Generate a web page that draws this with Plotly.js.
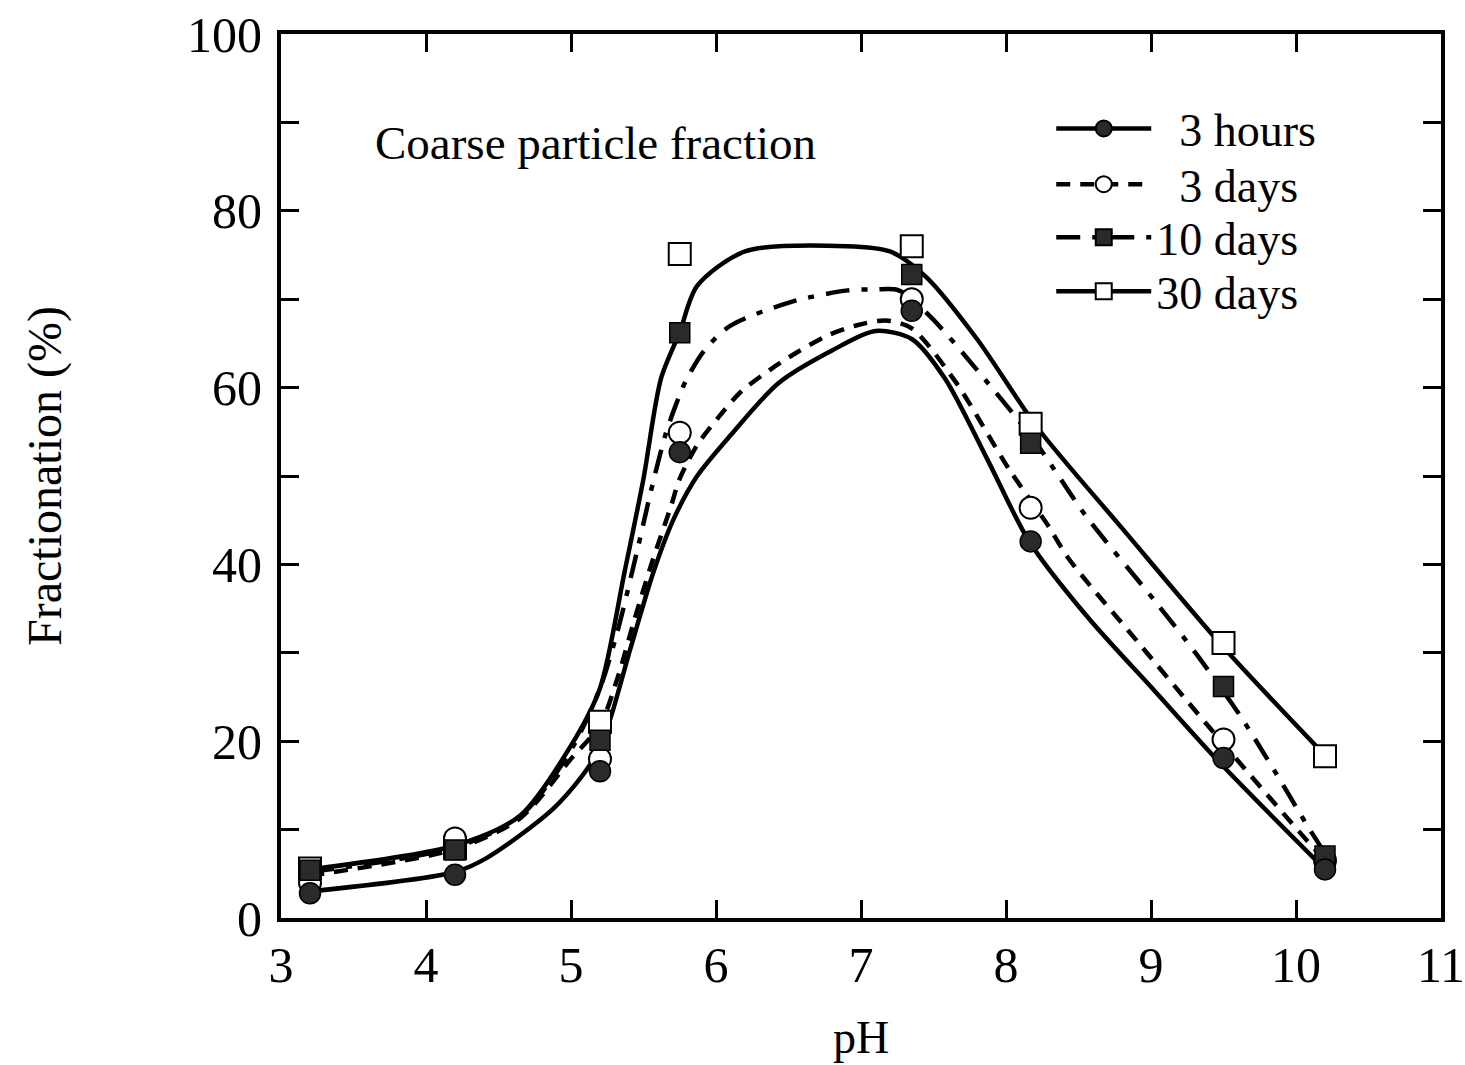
<!DOCTYPE html>
<html>
<head>
<meta charset="utf-8">
<script src="https://cdn.plot.ly/plotly-3.0.1.min.js"></script>
<style>
  html, body { margin: 0; padding: 0; background: #ffffff; }
  #chart { width: 1465px; height: 1065px; }
</style>
</head>
<body>
<div id="chart"></div>
<script>
// ---- Data ----
const seriesNames = ["\u00a0\u00a03 hours", "\u00a0\u00a03 days", "10 days", "30 days"];

// measured points
const pH = [3.2, 4.2, 5.2, 5.75, 7.35, 8.17, 9.5, 10.2];
const hours3 = [2.8, 4.9, 16.6, 52.7, 68.7, 42.6, 18.1, 5.5];
const days3  = [4.0, 9.0, 18.0, 54.9, 70.0, 46.4, 20.2, 6.5];
const days10 = [5.4, 7.7, 20.1, 66.2, 72.8, 53.7, 26.2, 7.0];
const days30 = [5.6, 7.9, 22.2, 75.1, 76.0, 55.9, 31.1, 18.3];

// fitted curves
const fitX_3h  = [3.2, 4.2, 4.42, 4.88, 5.13, 5.25, 5.41, 5.57, 5.71, 5.87, 6.1, 6.43, 6.8, 7.1, 7.35, 7.58, 7.88, 8.16, 8.57, 9.03, 9.49, 10.2];
const fitY_3h  = [3.0, 5.2, 6.8, 12.4, 17.3, 21.5, 30.5, 39.2, 45.2, 50.0, 54.6, 60.5, 64.2, 66.4, 65.5, 61.0, 51.6, 42.6, 33.9, 25.6, 17.3, 5.5];

const fitX_3d  = [3.2, 4.2, 4.65, 5.0, 5.2, 5.32, 5.44, 5.56, 5.69, 5.75, 5.87, 6.01, 6.17, 6.38, 6.56, 6.77, 6.96, 7.17, 7.35, 7.65, 8.02, 8.29, 8.43, 8.9, 9.38, 10.02, 10.2];
const fitY_3d  = [4.8, 7.8, 11.3, 18.0, 21.8, 27.1, 33.9, 40.3, 46.6, 49.7, 53.5, 56.5, 59.5, 62.1, 64.0, 65.9, 67.0, 67.6, 66.7, 60.7, 50.8, 44.4, 40.7, 31.4, 22.0, 9.8, 6.5];

const fitX_10d = [3.2, 4.2, 4.65, 5.0, 5.2, 5.32, 5.46, 5.55, 5.65, 5.72, 5.79, 5.92, 6.1, 6.52, 6.91, 7.1, 7.26, 7.48, 7.81, 8.2, 8.55, 9.03, 9.32, 9.61, 9.85, 10.08, 10.2];
const fitY_10d = [5.2, 8.0, 11.5, 19.0, 26.0, 32.4, 41.8, 48.2, 54.6, 57.9, 60.7, 64.2, 67.0, 69.7, 71.0, 71.1, 71.0, 68.0, 61.8, 53.9, 45.5, 35.8, 29.7, 23.0, 16.7, 10.4, 7.3];

const fitX_30d = [3.2, 4.2, 4.65, 5.0, 5.2, 5.37, 5.5, 5.62, 5.75, 5.87, 6.2, 6.9, 7.2, 7.45, 7.8, 8.22, 8.8, 9.49, 10.2];
const fitY_30d = [5.5, 8.2, 11.6, 19.5, 26.0, 39.2, 49.7, 61.0, 66.3, 71.5, 75.4, 76.0, 75.4, 72.5, 65.5, 55.4, 44.1, 30.8, 18.4];

const xTicks = [3, 4, 5, 6, 7, 8, 9, 10, 11];
const yTicks = [0, 20, 40, 60, 80, 100];

const chartTitle = "Coarse particle fraction";
const xTitle = "pH";
const yTitle = "Fractionation (%)";

// ---- Styles ----
const FONT = "Liberation Serif, Times New Roman, serif";
const LW = 4.5;
const styles = [
  {dash: "solid", symbol: "circle", fill: "#2a2a2a", size: 21},
  {dash: "14px,10px", symbol: "circle-open", fill: "#ffffff", size: 22},
  {dash: "24px,12px,6px,12px", symbol: "square", fill: "#2a2a2a", size: 20},
  {dash: "solid", symbol: "square-open", fill: "#ffffff", size: 22}
];
const legendIds = ["legend", "legend2", "legend3", "legend4"];
const legendY = [0.893, 0.830, 0.770, 0.709];

function curve(x, y, st) {
  return {x: x, y: y, type: "scatter", mode: "lines", showlegend: false, hoverinfo: "skip",
          line: {color: "#000", width: LW, dash: st.dash, shape: "spline", smoothing: 0.8}};
}
function pts(x, y, st) {
  const sym = st.symbol.replace("-open", "");
  return {x: x, y: y, type: "scatter", mode: "markers", showlegend: false,
          marker: {symbol: sym, size: st.size, color: st.fill, line: {color: "#000", width: st.symbol.includes("open") ? 2 : 1.5}}};
}
function legendItem(name, st, lg) {
  const sym = st.symbol.replace("-open", "");
  return {x: [null], y: [null], type: "scatter", mode: "lines+markers", name: name, legend: lg,
          line: {color: "#000", width: LW, dash: st.dash},
          marker: {symbol: sym, size: st.size - 1, color: st.fill, line: {color: "#000", width: 2}}};
}

const data = [
  curve(fitX_30d, fitY_30d, styles[3]),
  curve(fitX_10d, fitY_10d, styles[2]),
  curve(fitX_3d, fitY_3d, styles[1]),
  curve(fitX_3h, fitY_3h, styles[0]),
  pts(pH, days30, styles[3]),
  pts(pH, days3, styles[1]),
  pts(pH, days10, styles[2]),
  pts(pH, hours3, styles[0])
];
for (let i = 0; i < 4; i++) data.push(legendItem(seriesNames[i], styles[i], legendIds[i]));

const axisCommon = {
  showline: true, linecolor: "#000", linewidth: 4, mirror: "allticks",
  ticks: "inside", ticklen: 18, tickwidth: 3, tickcolor: "#000",
  showgrid: false, zeroline: false, ticklabeloverflow: "allow",
  tickfont: {family: FONT, size: 50, color: "#000"}
};

const layout = {
  width: 1465, height: 1065,
  paper_bgcolor: "#fff", plot_bgcolor: "#fff",
  margin: {l: 281, r: 24, t: 34, b: 147},
  font: {family: FONT, color: "#000"},
  xaxis: Object.assign({}, axisCommon, {
    range: [3, 11], tickvals: xTicks, ticktext: xTicks.map(String), ticklabelstandoff: 0,
    title: {text: xTitle, font: {family: FONT, size: 46}, standoff: 30}
  }),
  yaxis: Object.assign({}, axisCommon, {
    range: [0, 100], tickvals: yTicks, ticktext: yTicks.map(String), ticklabelstandoff: 5,
    minor: {dtick: 10, ticks: "inside", ticklen: 18, tickwidth: 3, tickcolor: "#000"},
    title: {text: yTitle, font: {family: FONT, size: 48}, standoff: 111}
  }),
  annotations: [{
    text: chartTitle, xref: "paper", yref: "paper", x: 0.079, y: 0.877,
    xanchor: "left", yanchor: "middle", showarrow: false,
    font: {family: FONT, size: 47, color: "#000"}
  }]
};
for (let i = 0; i < 4; i++) {
  layout[legendIds[i]] = {
    x: 0.664, y: legendY[i], xanchor: "left", yanchor: "middle",
    bgcolor: "rgba(0,0,0,0)", borderwidth: 0,
    font: {family: FONT, size: 46, color: "#000"},
    itemwidth: 95
  };
}

Plotly.newPlot("chart", data, layout, {displayModeBar: false, staticPlot: true});
</script>
</body>
</html>
